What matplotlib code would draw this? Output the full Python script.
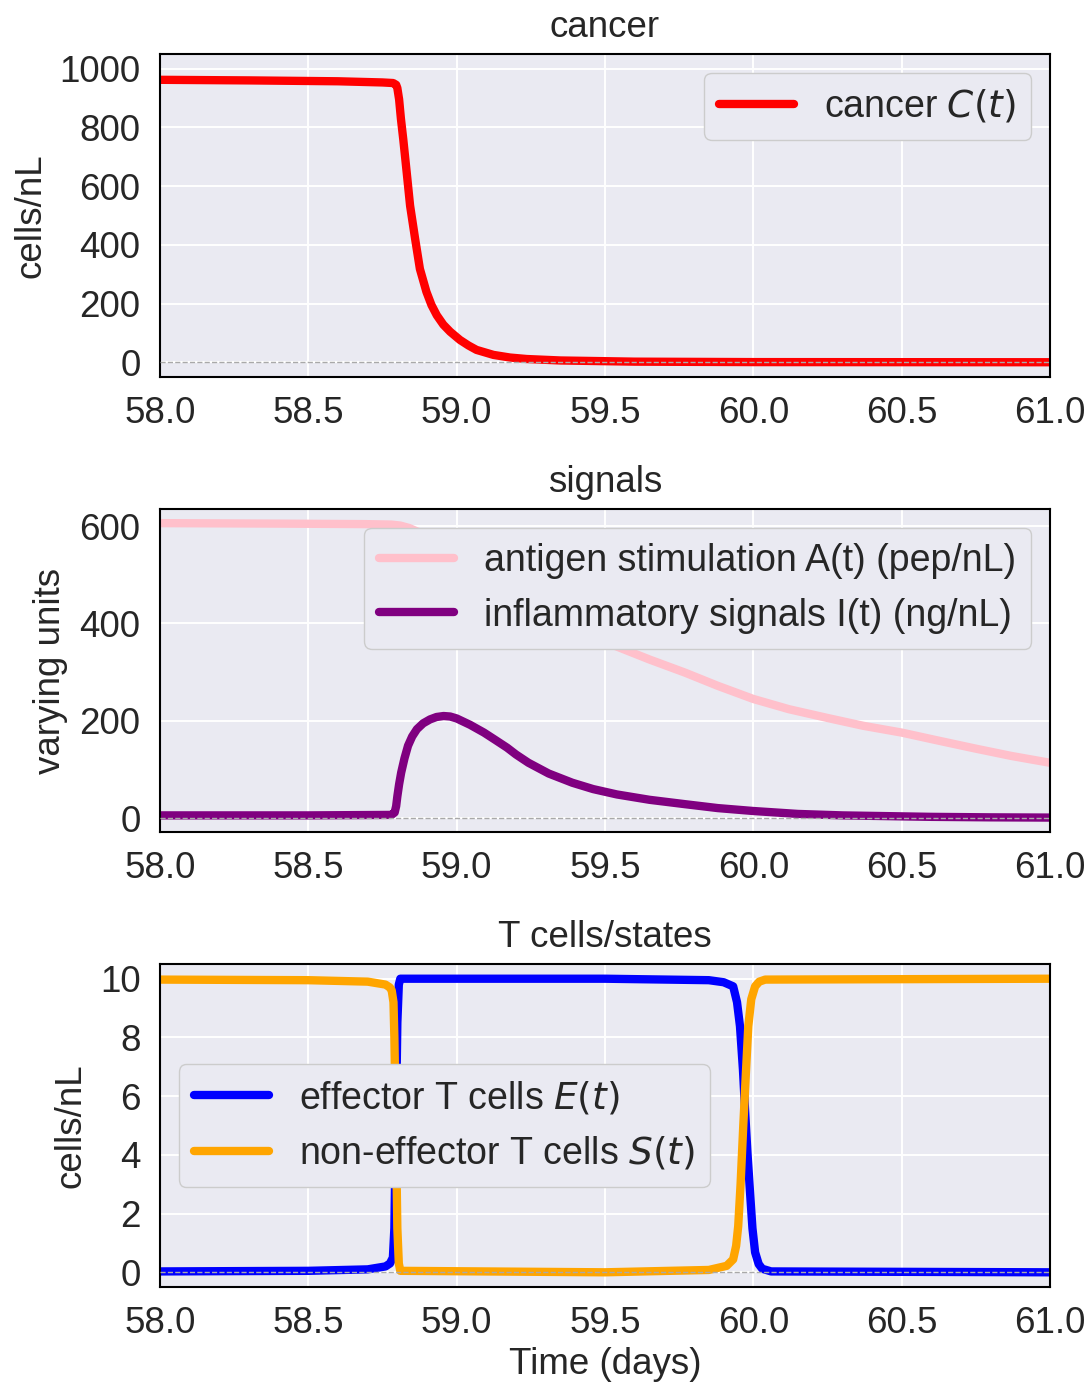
import numpy as np
import matplotlib
matplotlib.use('Agg')
import matplotlib.pyplot as plt
import seaborn as sns

sns.set_theme(style='darkgrid')
plt.rcParams['font.family'] = ['Liberation Sans', 'DejaVu Sans']
fs = 26.5
plt.rcParams.update({'font.size': fs, 'axes.titlesize': fs, 'axes.labelsize': fs,
                     'xtick.labelsize': fs, 'ytick.labelsize': fs, 'legend.fontsize': 27,
                     'grid.linewidth': 1.4, 'legend.framealpha': 1.0})

# cancer C(t)
t_c = [58.0, 58.3, 58.6, 58.75, 58.786, 58.796, 58.80, 58.806, 58.812, 58.82, 58.8315, 58.843,
       58.86, 58.876, 58.898, 58.915, 58.933, 58.955, 58.978, 59.011, 59.04, 59.067, 59.124,
       59.18, 59.236, 59.35, 59.6, 60.0, 61.0]
cancer = [962, 960, 957, 953, 951, 945, 934, 895, 830, 759, 647, 533,
          420, 318, 240, 195, 160, 128, 104, 76, 57, 42, 25,
          16, 11, 6, 2, 0.5, 0]

# antigen A(t)
t_a = [58.0, 58.4, 58.69, 58.78, 58.81, 58.84, 58.87, 58.91, 58.95, 59.02, 59.1, 59.2,
       59.3, 59.41, 59.53, 59.65, 59.77, 59.88, 60.0, 60.12, 60.25, 60.37, 60.5, 60.62,
       60.75, 60.87, 61.0]
antigen = [606, 605, 604, 603, 601, 596, 588, 572, 553, 522, 492, 455,
           420, 386, 355, 326, 299, 272, 245, 224, 206, 190, 176, 160,
           143, 128, 114]

# inflammatory signals I(t)
t_i = [58.0, 58.5, 58.78, 58.791, 58.796, 58.80, 58.806, 58.813, 58.824, 58.836, 58.85, 58.866,
       58.887, 58.91, 58.932, 58.956, 58.978, 59.0, 59.045, 59.092, 59.13, 59.17, 59.2, 59.242,
       59.31, 59.39, 59.46, 59.54, 59.65, 59.77, 59.88, 60.0, 60.15, 60.3, 60.45, 60.6,
       60.8, 61.0]
inflam = [6, 6, 7, 12, 25, 45, 70, 94, 123, 149, 168, 183,
          195, 203, 208, 210, 209, 205, 192, 176, 161, 145, 131, 114,
          92, 73, 60, 49, 38, 29, 21, 15, 9, 6, 4.5, 3,
          2, 1.5]

# T cells
t_e = [58.0, 58.5, 58.7, 58.76, 58.775, 58.785, 58.79, 58.795, 58.80, 58.805, 58.81, 59.5,
       59.85, 59.9, 59.932, 59.945, 59.955, 59.965, 59.972, 59.98, 59.989, 59.997, 60.006,
       60.018, 60.03, 60.06, 61.0]
effector = [0.03, 0.05, 0.1, 0.2, 0.3, 0.5, 1.5, 5.0, 8.5, 9.8, 10.0, 10.0,
            9.95, 9.88, 9.74, 9.2, 8.38, 6.9, 5.54, 4.1, 2.7, 1.5, 0.68,
            0.28, 0.12, 0.03, 0.0]
t_s = [58.0, 58.5, 58.7, 58.76, 58.775, 58.781, 58.787, 58.79, 58.795, 58.80, 58.805, 58.81,
       59.5, 59.85, 59.91, 59.932, 59.942, 59.949, 59.957, 59.966, 59.975, 59.983, 59.993,
       60.006, 60.02, 60.04, 61.0]
noneff = [9.97, 9.95, 9.9, 9.8, 9.7, 9.6, 9.2, 8.0, 5.0, 1.5, 0.3, 0.05,
          0.0, 0.08, 0.22, 0.44, 0.9, 1.57, 3.0, 4.98, 6.8, 8.38, 9.3,
          9.74, 9.9, 9.97, 10.0]

xticks = [58.0, 58.5, 59.0, 59.5, 60.0, 60.5, 61.0]

fig, axs = plt.subplots(3, 1, figsize=(10.9, 13.84), dpi=100)
fig.subplots_adjust(left=0.1468, right=0.9633, top=0.961, bottom=0.0701, hspace=0.409)

lw = 6
axs[0].plot(t_c, cancer, color='red', lw=lw, label='cancer $C(t)$')
axs[0].set_title('cancer', pad=12)
axs[0].set_ylabel('cells/nL', labelpad=8)
axs[0].set_ylim(-50, 1050)
axs[0].set_yticks([0, 200, 400, 600, 800, 1000])
axs[0].legend(loc='upper right')

axs[1].plot(t_a, antigen, color='pink', lw=lw, label='antigen stimulation A(t) (pep/nL)')
axs[1].plot(t_i, inflam, color='purple', lw=lw, label='inflammatory signals I(t) (ng/nL)')
axs[1].set_title('signals', pad=12)
axs[1].set_ylabel('varying units', labelpad=8)
axs[1].set_ylim(-28, 635)
axs[1].set_yticks([0, 200, 400, 600])
axs[1].legend(loc='upper right')

axs[2].plot(t_e, effector, color='blue', lw=lw, label='effector T cells $E(t)$')
axs[2].plot(t_s, noneff, color='orange', lw=lw, label='non-effector T cells $S(t)$')
axs[2].set_title('T cells/states', pad=12)
axs[2].set_ylabel('cells/nL', labelpad=8)
axs[2].set_xlabel('Time (days)', labelpad=4)
axs[2].set_ylim(-0.5, 10.5)
axs[2].set_yticks([0, 2, 4, 6, 8, 10])
axs[2].legend(loc='center left')

for ax in axs:
    ax.axhline(0, color='darkgray', ls='--', lw=1, zorder=3)
    ax.set_xlim(58, 61)
    ax.set_xticks(xticks)
    ax.set_xticklabels(['%.1f' % x for x in xticks])
    ax.tick_params(pad=8)
    for s in ax.spines.values():
        s.set_visible(True)
        s.set_color('black')
        s.set_linewidth(1.5)

fig.savefig('out.png', dpi=100)
